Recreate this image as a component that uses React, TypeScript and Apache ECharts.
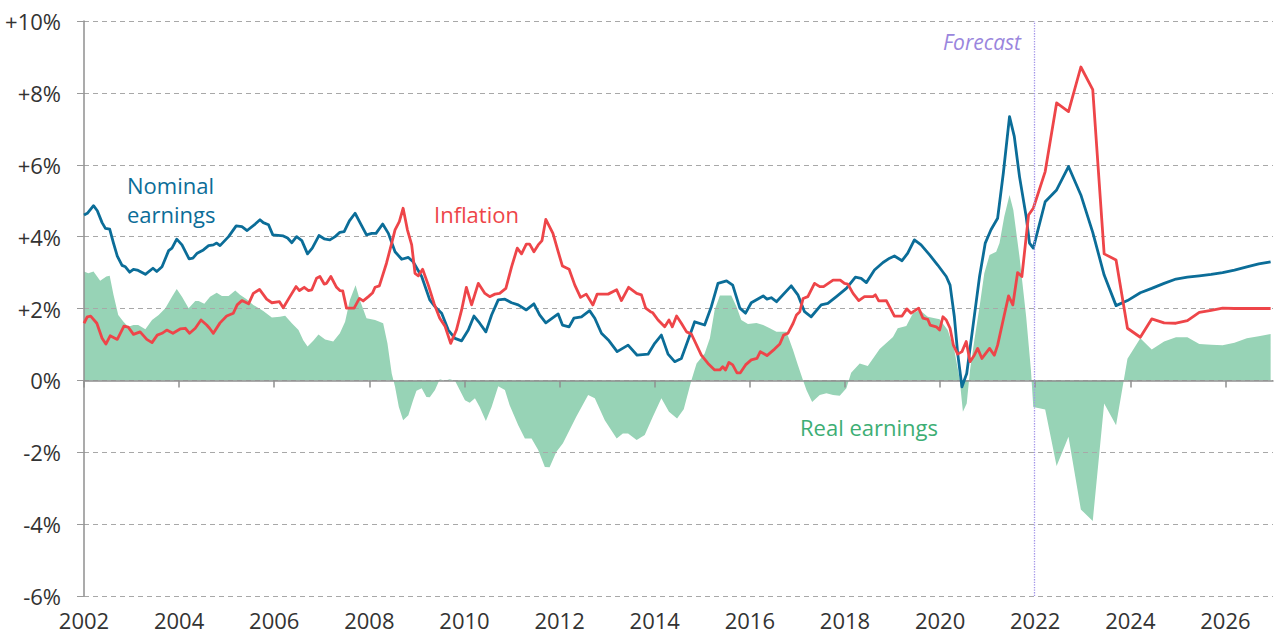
import React, { useEffect, useRef } from 'react';
import * as echarts from 'echarts';

// x = decimal year, y = annual % change
const nominalHistory: [number, number][] = [
  [2002.0, 4.6], [2002.07, 4.65], [2002.2, 4.86], [2002.28, 4.72], [2002.38, 4.39], [2002.45, 4.23], [2002.54, 4.21],
  [2002.62, 3.82], [2002.7, 3.46], [2002.8, 3.2], [2002.87, 3.16], [2002.96, 3.01], [2003.04, 3.09], [2003.12, 3.07],
  [2003.29, 2.95], [2003.45, 3.12], [2003.53, 3.03], [2003.64, 3.16], [2003.78, 3.61], [2003.85, 3.68], [2003.95, 3.93],
  [2004.06, 3.77], [2004.21, 3.38], [2004.29, 3.4], [2004.38, 3.54], [2004.51, 3.63], [2004.62, 3.75], [2004.72, 3.77],
  [2004.79, 3.82], [2004.86, 3.75], [2005.04, 4.0], [2005.2, 4.3], [2005.32, 4.28], [2005.43, 4.17], [2005.6, 4.35],
  [2005.7, 4.47], [2005.77, 4.39], [2005.88, 4.33], [2005.97, 4.05], [2006.19, 4.02], [2006.28, 3.96], [2006.37, 3.83],
  [2006.47, 4.0], [2006.58, 3.89], [2006.7, 3.52], [2006.8, 3.68], [2006.94, 4.03], [2007.05, 3.94], [2007.17, 3.91],
  [2007.28, 4.0], [2007.38, 4.12], [2007.47, 4.14], [2007.58, 4.44], [2007.7, 4.65], [2007.82, 4.35], [2007.94, 4.05],
  [2008.05, 4.09], [2008.14, 4.09], [2008.28, 4.35], [2008.4, 4.09], [2008.54, 3.58], [2008.68, 3.37], [2008.82, 3.42],
  [2008.92, 3.3], [2009.1, 2.89], [2009.27, 2.24], [2009.38, 2.05], [2009.52, 1.87], [2009.66, 1.4], [2009.8, 1.17],
  [2009.94, 1.1], [2010.08, 1.4], [2010.2, 1.79], [2010.32, 1.59], [2010.45, 1.35], [2010.57, 1.82], [2010.71, 2.24],
  [2010.85, 2.26], [2010.99, 2.16], [2011.13, 2.1], [2011.3, 1.96], [2011.46, 2.13], [2011.58, 1.82], [2011.71, 1.6],
  [2011.97, 1.85], [2012.06, 1.54], [2012.2, 1.49], [2012.3, 1.73], [2012.46, 1.77], [2012.63, 1.94], [2012.74, 1.73],
  [2012.88, 1.31], [2013.04, 1.1], [2013.21, 0.8], [2013.44, 0.98], [2013.63, 0.7], [2013.86, 0.73], [2014.0, 1.03],
  [2014.14, 1.26], [2014.28, 0.73], [2014.42, 0.52], [2014.56, 0.61], [2014.74, 1.26], [2014.84, 1.63], [2015.05, 1.54],
  [2015.19, 2.05], [2015.33, 2.7], [2015.51, 2.77], [2015.64, 2.65], [2015.79, 2.01], [2015.91, 1.87], [2016.03, 2.16],
  [2016.28, 2.35], [2016.36, 2.26], [2016.45, 2.3], [2016.56, 2.19], [2016.87, 2.63], [2017.01, 2.38], [2017.15, 1.91],
  [2017.29, 1.77], [2017.5, 2.1], [2017.64, 2.14], [2017.82, 2.33], [2018.03, 2.56], [2018.22, 2.87], [2018.34, 2.84],
  [2018.45, 2.72], [2018.62, 3.07], [2018.8, 3.28], [2018.94, 3.4], [2019.04, 3.46], [2019.2, 3.33], [2019.32, 3.54],
  [2019.46, 3.91], [2019.6, 3.77], [2019.78, 3.49], [2019.95, 3.21], [2020.13, 2.89], [2020.21, 2.65], [2020.3, 1.77],
  [2020.37, 0.75], [2020.46, -0.18], [2020.56, 0.19], [2020.69, 1.49], [2020.83, 2.89], [2020.95, 3.82], [2021.07, 4.19],
  [2021.21, 4.51], [2021.33, 5.77], [2021.46, 7.34], [2021.56, 6.79], [2021.67, 5.67], [2021.81, 4.56], [2021.88, 3.82],
  [2021.96, 3.68],
];
const nominalForecast: [number, number][] = [
  [2022.21, 4.97], [2022.45, 5.3], [2022.7, 5.95], [2022.96, 5.16], [2023.21, 4.12], [2023.45, 2.93], [2023.7, 2.08],
  [2023.94, 2.22], [2024.21, 2.44], [2024.45, 2.56], [2024.71, 2.7], [2024.96, 2.82], [2025.2, 2.87], [2025.45, 2.91],
  [2025.7, 2.95], [2025.94, 3.0], [2026.19, 3.07], [2026.45, 3.16], [2026.7, 3.24], [2026.95, 3.3],
];

const inflationHistory: [number, number][] = [
  [2002.0, 1.59], [2002.07, 1.77], [2002.14, 1.79], [2002.27, 1.59], [2002.38, 1.17], [2002.46, 1.01], [2002.55, 1.24],
  [2002.7, 1.14], [2002.84, 1.51], [2002.93, 1.48], [2003.04, 1.28], [2003.18, 1.35], [2003.32, 1.14], [2003.43, 1.05],
  [2003.54, 1.26], [2003.64, 1.31], [2003.74, 1.4], [2003.87, 1.31], [2004.02, 1.43], [2004.13, 1.45], [2004.22, 1.31],
  [2004.34, 1.45], [2004.46, 1.68], [2004.58, 1.54], [2004.64, 1.45], [2004.72, 1.31], [2004.86, 1.6], [2005.0, 1.79],
  [2005.14, 1.87], [2005.22, 2.1], [2005.32, 2.22], [2005.46, 2.13], [2005.56, 2.42], [2005.69, 2.53], [2005.84, 2.26],
  [2005.95, 2.16], [2006.11, 2.19], [2006.19, 2.02], [2006.32, 2.31], [2006.46, 2.61], [2006.53, 2.5], [2006.63, 2.59],
  [2006.72, 2.5], [2006.79, 2.52], [2006.89, 2.84], [2006.96, 2.89], [2007.05, 2.68], [2007.1, 2.7], [2007.19, 2.89],
  [2007.31, 2.59], [2007.38, 2.5], [2007.44, 2.49], [2007.52, 2.01], [2007.68, 2.01], [2007.79, 2.28], [2007.87, 2.21],
  [2007.98, 2.33], [2008.07, 2.44], [2008.12, 2.59], [2008.21, 2.63], [2008.36, 3.26], [2008.47, 3.82], [2008.54, 4.19],
  [2008.63, 4.42], [2008.71, 4.79], [2008.8, 4.19], [2008.89, 3.77], [2008.96, 2.98], [2009.03, 2.91], [2009.12, 3.09],
  [2009.24, 2.65], [2009.36, 2.14], [2009.48, 1.73], [2009.59, 1.51], [2009.71, 1.03], [2009.83, 1.4], [2009.94, 1.96],
  [2010.04, 2.59], [2010.15, 2.1], [2010.29, 2.7], [2010.43, 2.42], [2010.53, 2.33], [2010.64, 2.4], [2010.74, 2.42],
  [2010.87, 2.56], [2010.99, 3.16], [2011.11, 3.68], [2011.2, 3.52], [2011.3, 3.79], [2011.37, 3.79], [2011.46, 3.58],
  [2011.55, 3.77], [2011.63, 3.89], [2011.71, 4.48], [2011.86, 4.09], [2011.97, 3.58], [2012.06, 3.18], [2012.2, 3.09],
  [2012.32, 2.65], [2012.44, 2.31], [2012.56, 2.4], [2012.7, 2.1], [2012.79, 2.4], [2013.02, 2.4], [2013.2, 2.52],
  [2013.3, 2.22], [2013.45, 2.59], [2013.62, 2.42], [2013.72, 2.38], [2013.81, 2.01], [2013.91, 1.91], [2013.96, 1.88],
  [2014.07, 1.68], [2014.21, 1.49], [2014.3, 1.68], [2014.37, 1.49], [2014.46, 1.79], [2014.56, 1.59], [2014.67, 1.35],
  [2014.77, 1.29], [2014.98, 0.7], [2015.12, 0.47], [2015.26, 0.29], [2015.37, 0.29], [2015.43, 0.38], [2015.49, 0.29],
  [2015.56, 0.5], [2015.64, 0.43], [2015.73, 0.21], [2015.8, 0.21], [2015.91, 0.43], [2016.03, 0.57], [2016.15, 0.61],
  [2016.22, 0.8], [2016.36, 0.69], [2016.52, 0.87], [2016.63, 1.01], [2016.71, 1.26], [2016.8, 1.31], [2016.91, 1.59],
  [2016.98, 1.82], [2017.05, 1.91], [2017.12, 2.28], [2017.22, 2.33], [2017.36, 2.7], [2017.47, 2.61], [2017.55, 2.61],
  [2017.75, 2.79], [2017.9, 2.79], [2017.99, 2.7], [2018.06, 2.68], [2018.17, 2.42], [2018.29, 2.22], [2018.41, 2.33],
  [2018.59, 2.33], [2018.64, 2.38], [2018.71, 2.21], [2018.87, 2.22], [2019.04, 1.79], [2019.2, 1.79], [2019.3, 1.99],
  [2019.39, 1.87], [2019.55, 2.01], [2019.64, 1.73], [2019.74, 1.7], [2019.79, 1.54], [2019.92, 1.49], [2019.99, 1.4],
  [2020.06, 1.77], [2020.13, 1.68], [2020.21, 1.45], [2020.28, 0.98], [2020.37, 0.73], [2020.46, 0.8], [2020.55, 1.08],
  [2020.63, 0.52], [2020.72, 0.7], [2020.79, 0.89], [2020.88, 0.61], [2021.04, 0.89], [2021.14, 0.7], [2021.21, 0.98],
  [2021.35, 1.82], [2021.44, 2.35], [2021.53, 2.1], [2021.63, 3.0], [2021.72, 2.89], [2021.86, 4.6], [2021.96, 4.79],
];
const inflationForecast: [number, number][] = [
  [2022.21, 5.81], [2022.45, 7.72], [2022.7, 7.48], [2022.96, 8.72], [2023.21, 8.09], [2023.45, 3.52], [2023.7, 3.35],
  [2023.94, 1.45], [2024.21, 1.2], [2024.45, 1.71], [2024.71, 1.6], [2024.96, 1.59], [2025.2, 1.66], [2025.45, 1.89],
  [2025.7, 1.95], [2025.94, 2.01], [2026.19, 2.0], [2026.45, 2.0], [2026.7, 2.0], [2026.95, 2.0],
];

const realHistory: [number, number][] = [
  [2002.0, 3.03], [2002.09, 2.98], [2002.2, 3.03], [2002.34, 2.77], [2002.47, 2.89], [2002.54, 2.91], [2002.62, 2.38],
  [2002.72, 1.82], [2002.83, 1.63], [2002.93, 1.49], [2003.04, 1.54], [2003.14, 1.54], [2003.29, 1.42], [2003.43, 1.68],
  [2003.57, 1.82], [2003.71, 2.01], [2003.85, 2.33], [2003.95, 2.54], [2004.06, 2.33], [2004.2, 2.01], [2004.34, 2.21],
  [2004.41, 2.21], [2004.53, 2.13], [2004.65, 2.33], [2004.79, 2.44], [2004.9, 2.35], [2005.04, 2.35], [2005.18, 2.5],
  [2005.28, 2.38], [2005.42, 2.26], [2005.56, 2.1], [2005.77, 1.93], [2005.95, 1.75], [2006.12, 1.77], [2006.23, 1.8],
  [2006.37, 1.59], [2006.51, 1.4], [2006.61, 1.12], [2006.7, 0.94], [2006.82, 1.1], [2006.93, 1.28], [2007.07, 1.14],
  [2007.24, 1.08], [2007.38, 1.31], [2007.49, 1.63], [2007.59, 2.24], [2007.71, 2.65], [2007.8, 2.24], [2007.94, 1.73],
  [2008.12, 1.68], [2008.29, 1.59], [2008.38, 1.03], [2008.47, 0.19], [2008.54, -0.18], [2008.62, -0.74], [2008.71, -1.11],
  [2008.82, -0.97], [2008.92, -0.55], [2008.99, -0.29], [2009.1, -0.22], [2009.2, -0.46], [2009.27, -0.47], [2009.38, -0.27],
  [2009.48, 0.03], [2009.59, -0.01], [2009.69, 0.03], [2009.8, -0.01], [2009.9, -0.27], [2010.01, -0.55], [2010.11, -0.62],
  [2010.22, -0.5], [2010.32, -0.74], [2010.45, -1.13], [2010.57, -0.74], [2010.71, -0.16], [2010.85, -0.27], [2010.95, -0.69],
  [2011.13, -1.25], [2011.27, -1.62], [2011.41, -1.62], [2011.55, -1.94], [2011.69, -2.41], [2011.79, -2.42], [2011.93, -1.99],
  [2012.07, -1.75], [2012.21, -1.38], [2012.35, -1.01], [2012.6, -0.41], [2012.74, -0.5], [2012.95, -1.11], [2013.2, -1.62],
  [2013.33, -1.48], [2013.44, -1.48], [2013.62, -1.66], [2013.79, -1.52], [2013.96, -1.01], [2014.14, -0.5], [2014.3, -0.87],
  [2014.47, -1.06], [2014.61, -0.8], [2014.77, 0.0], [2014.88, 0.47], [2015.05, 0.75], [2015.16, 1.17], [2015.26, 1.96],
  [2015.37, 2.36], [2015.61, 2.36], [2015.72, 2.05], [2015.82, 1.68], [2015.96, 1.57], [2016.14, 1.6], [2016.28, 1.54],
  [2016.42, 1.45], [2016.56, 1.35], [2016.77, 1.35], [2016.91, 0.84], [2017.01, 0.43], [2017.12, 0.0], [2017.19, -0.27],
  [2017.31, -0.6], [2017.47, -0.41], [2017.61, -0.36], [2017.75, -0.41], [2017.89, -0.43], [2018.03, -0.22], [2018.13, 0.21],
  [2018.31, 0.47], [2018.48, 0.4], [2018.73, 0.87], [2019.01, 1.21], [2019.11, 1.45], [2019.29, 1.51], [2019.43, 1.87],
  [2019.57, 1.96], [2019.74, 1.77], [2019.99, 1.7], [2020.16, 1.4], [2020.3, 0.84], [2020.41, 0.05], [2020.48, -0.87],
  [2020.56, -0.64], [2020.63, 0.29], [2020.72, 1.12], [2020.83, 2.05], [2020.93, 2.98], [2021.04, 3.49], [2021.18, 3.58],
  [2021.25, 3.82], [2021.35, 4.56], [2021.46, 5.16], [2021.54, 4.74], [2021.67, 3.44], [2021.81, 1.77], [2021.91, 0.29],
  [2021.96, -0.74],
];
const realForecast: [number, number][] = [
  [2022.21, -0.81], [2022.45, -2.38], [2022.7, -1.57], [2022.96, -3.59], [2023.21, -3.91], [2023.45, -0.64], [2023.7, -1.25],
  [2023.94, 0.6], [2024.21, 1.17], [2024.45, 0.86], [2024.71, 1.08], [2024.96, 1.2], [2025.2, 1.2], [2025.45, 1.01],
  [2025.7, 0.99], [2025.94, 0.98], [2026.19, 1.05], [2026.45, 1.17], [2026.7, 1.23], [2026.95, 1.29],
];

const yearTicks = [2002, 2004, 2006, 2008, 2010, 2012, 2014, 2016, 2018, 2020, 2022, 2024, 2026];
const forecastStart = 2021.97;

const FONT = "'Open Sans', 'Liberation Sans', sans-serif";
const BLUE = '#0b6d98';
const RED = '#ee4549';
const GREEN_FILL = '#97d3b6';

export default function App() {
  const ref = useRef<HTMLDivElement>(null);

  useEffect(() => {
    if (!ref.current) return;
    const chart = echarts.init(ref.current, null, { renderer: 'svg' });
    chart.setOption({
      animation: false,
      grid: { left: 84, right: 1, top: 21, bottom: 40, containLabel: false },
      xAxis: [
        {
          type: 'value',
          min: 2002,
          max: 2027,
          interval: 2,
          position: 'bottom',
          axisLine: { show: false, onZero: false },
          axisTick: { show: false },
          splitLine: { show: false },
          axisLabel: {
            customValues: yearTicks,
            margin: 13,
            fontFamily: FONT,
            fontSize: 22,
            color: '#333333',
            formatter: (v: number) => String(v),
          },
        },
        {
          type: 'value',
          min: 2002,
          max: 2027,
          interval: 2,
          position: 'bottom',
          z: 2,
          axisLine: { show: true, onZero: true, lineStyle: { color: '#8f8f8f', width: 1.5 } },
          axisTick: { show: true, customValues: yearTicks, length: 7, lineStyle: { color: '#8f8f8f', width: 1.5 } },
          axisLabel: { show: false },
          splitLine: { show: false },
        },
      ],
      yAxis: {
        type: 'value',
        min: -6,
        max: 10,
        interval: 2,
        z: 2,
        axisLine: { show: true, onZero: false, lineStyle: { color: '#8f8f8f', width: 1.5 } },
        axisTick: { show: true, length: 7, lineStyle: { color: '#9a9a9a', width: 1 } },
        splitLine: { show: true, lineStyle: { color: '#a8a8a8', type: [5, 4], width: 1 } },
        axisLabel: {
          margin: 23,
          fontFamily: FONT,
          fontSize: 22,
          color: '#333333',
          padding: [0, 0, 6, 0],
          formatter: (v: number) => (v > 0 ? '+' + v + '%' : v + '%'),
        },
      },
      series: [
        {
          name: 'Real earnings',
          type: 'line',
          xAxisIndex: 0,
          z: 1,
          showSymbol: false,
          symbol: 'none',
          data: [...realHistory, ...realForecast],
          lineStyle: { width: 0, color: GREEN_FILL },
          itemStyle: { color: GREEN_FILL },
          areaStyle: { color: GREEN_FILL, opacity: 1 },
        },
        {
          name: 'Nominal earnings',
          type: 'line',
          xAxisIndex: 0,
          z: 3,
          showSymbol: false,
          symbol: 'none',
          data: [...nominalHistory, ...nominalForecast],
          lineStyle: { width: 2.8, color: BLUE, join: 'round' },
          itemStyle: { color: BLUE },
          markLine: {
            silent: true,
            symbol: ['none', 'none'],
            label: { show: false },
            lineStyle: { type: 'dotted', color: '#a294e8', width: 1.3 },
            data: [{ xAxis: forecastStart }],
          },
        },
        {
          name: 'Inflation',
          type: 'line',
          xAxisIndex: 0,
          z: 4,
          showSymbol: false,
          symbol: 'none',
          data: [...inflationHistory, ...inflationForecast],
          lineStyle: { width: 2.8, color: RED, join: 'round' },
          itemStyle: { color: RED },
        },
      ],
      graphic: [
        { type: 'text', x: 127, y: 185, style: { text: 'Nominal', fill: BLUE, font: `22px ${FONT}`, textVerticalAlign: 'middle' } },
        { type: 'text', x: 127, y: 214, style: { text: 'earnings', fill: BLUE, font: `22px ${FONT}`, textVerticalAlign: 'middle' } },
        { type: 'text', x: 434, y: 214, style: { text: 'Inflation', fill: RED, font: `22px ${FONT}`, textVerticalAlign: 'middle' } },
        { type: 'text', x: 800, y: 427, style: { text: 'Real earnings', fill: '#3dae74', font: `22px ${FONT}`, textVerticalAlign: 'middle' } },
        { type: 'text', x: 1021, y: 42, style: { text: 'Forecast', fill: '#9a86dd', font: `italic 21px ${FONT}`, textAlign: 'right', textVerticalAlign: 'middle' } },
      ],
    });
    return () => chart.dispose();
  }, []);

  return (
    <div
      ref={ref}
      style={{ position: 'fixed', left: 0, top: 0, width: 1274, height: 636, background: '#ffffff' }}
    />
  );
}
